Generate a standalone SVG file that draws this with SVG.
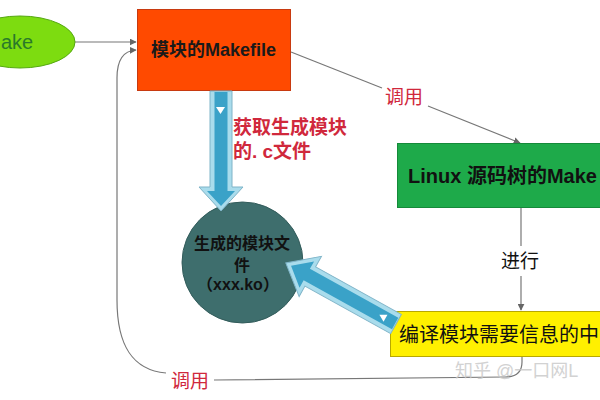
<svg xmlns="http://www.w3.org/2000/svg" width="600" height="400" viewBox="0 0 600 400">
<style>
.cn{fill:none;stroke:#777;stroke-width:1.2}
.lbl{font-family:"Liberation Sans","Noto Sans CJK SC",sans-serif}
.red{fill:#d0283c;font-size:19px}
.bo{font-weight:bold}
.outer{fill:#a9dcec;stroke:#7fb4c8;stroke-width:1}
.inner{fill:#3aa2c8}
</style>
<defs>
<marker id="ah" viewBox="0 0 10 10" refX="9" refY="5" markerWidth="7" markerHeight="7" orient="auto" markerUnits="userSpaceOnUse">
<path d="M0,0 L10,5 L0,10 z" fill="#666"/>
</marker>
</defs>
<rect width="600" height="400" fill="#fff"/>

<g id="connectors">
<path class="cn" d="M75,42 L136,42" marker-end="url(#ah)"/>
<path class="cn" d="M291,52 L382,88"/>
<path class="cn" d="M428,106 L520,143" marker-end="url(#ah)"/>
<path class="cn" d="M521,208 L521,246"/>
<path class="cn" d="M521,276 L521,310" marker-end="url(#ah)"/>
<path class="cn" d="M522,357 L522,362 Q522,377 505,377 L214,380"/>
<path class="cn" d="M166,373 C132,370 117,345 117,300 L117,78 Q117,51 136,50" marker-end="url(#ah)"/>
<text class="lbl red" x="404" y="104" text-anchor="middle">调用</text>
<text class="lbl" x="520" y="268" text-anchor="middle" font-size="19" fill="#111">进行</text>
<text class="lbl red" x="190" y="388" text-anchor="middle">调用</text>
</g>

<g id="make">
<ellipse cx="20" cy="42" rx="55" ry="26" fill="#7ddc10" stroke="#55a810" stroke-width="1"/>
<text class="lbl" x="1" y="49" font-size="20" fill="#2a7a2a">ake</text>
</g>

<g id="module-makefile">
<rect x="137.5" y="9.5" width="153" height="81" fill="#ff4a00" stroke="#c83a10" stroke-width="1"/>
<text class="lbl bo" x="213.5" y="56" text-anchor="middle" font-size="18" fill="#1a1a1a">模块的Makefile</text>
</g>

<g id="linux-makefile">
<rect x="397.5" y="143.5" width="210" height="64" fill="#1eaa4a" stroke="#158a3a" stroke-width="1"/>
<text class="lbl bo" x="408" y="183" font-size="20" fill="#111">Linux 源码树的Make</text>
</g>

<g id="compile-info">
<rect x="390.5" y="311.5" width="220" height="45" fill="#fff000" stroke="#b8a800" stroke-width="1"/>
<text class="lbl" x="399" y="342" font-size="20" fill="#111">编译模块需要信息的中</text>
</g>

<g id="ko-file">
<circle cx="242.5" cy="262.5" r="60.5" fill="#3e6e6d" stroke="#335c5b" stroke-width="1"/>
<text class="lbl bo" x="242" y="249" text-anchor="middle" font-size="16" fill="#111">生成的模块文</text>
<text class="lbl bo" x="242" y="271" text-anchor="middle" font-size="16" fill="#111">件</text>
<text class="lbl bo" x="238" y="290" text-anchor="middle" font-size="16" fill="#111">（xxx.ko）</text>
</g>

<g id="get-c-arrow">
<polygon class="outer" points="210,91 232,91 232,187 243,187 221,211 199,187 210,187"/>
<polygon class="inner" points="214.5,92 227.5,92 227.5,191 235,191 221,206 207,191 214.5,191"/>
<polygon points="216,107 225,107 220.5,114" fill="#fff"/>
<text class="lbl bo red" x="233" y="134" font-size="17">获取生成模块</text>
<text class="lbl bo red" x="233" y="158" font-size="17">的. c文件</text>
</g>

<g id="compile-arrow" transform="translate(396,324) rotate(209)">
<polygon class="outer" points="0,-11 98,-11 98,-23 126,0 98,23 98,11 0,11"/>
<polygon class="inner" points="1,-6.5 102,-6.5 102,-15 120,0 102,15 102,6.5 1,6.5"/>
<polygon points="12,-4 12,4 19,0" fill="#fff"/>
</g>

<text class="lbl" x="455" y="377" font-size="18" fill="#c8c8c8" opacity="0.8">知乎 @一口网L</text>
</svg>
